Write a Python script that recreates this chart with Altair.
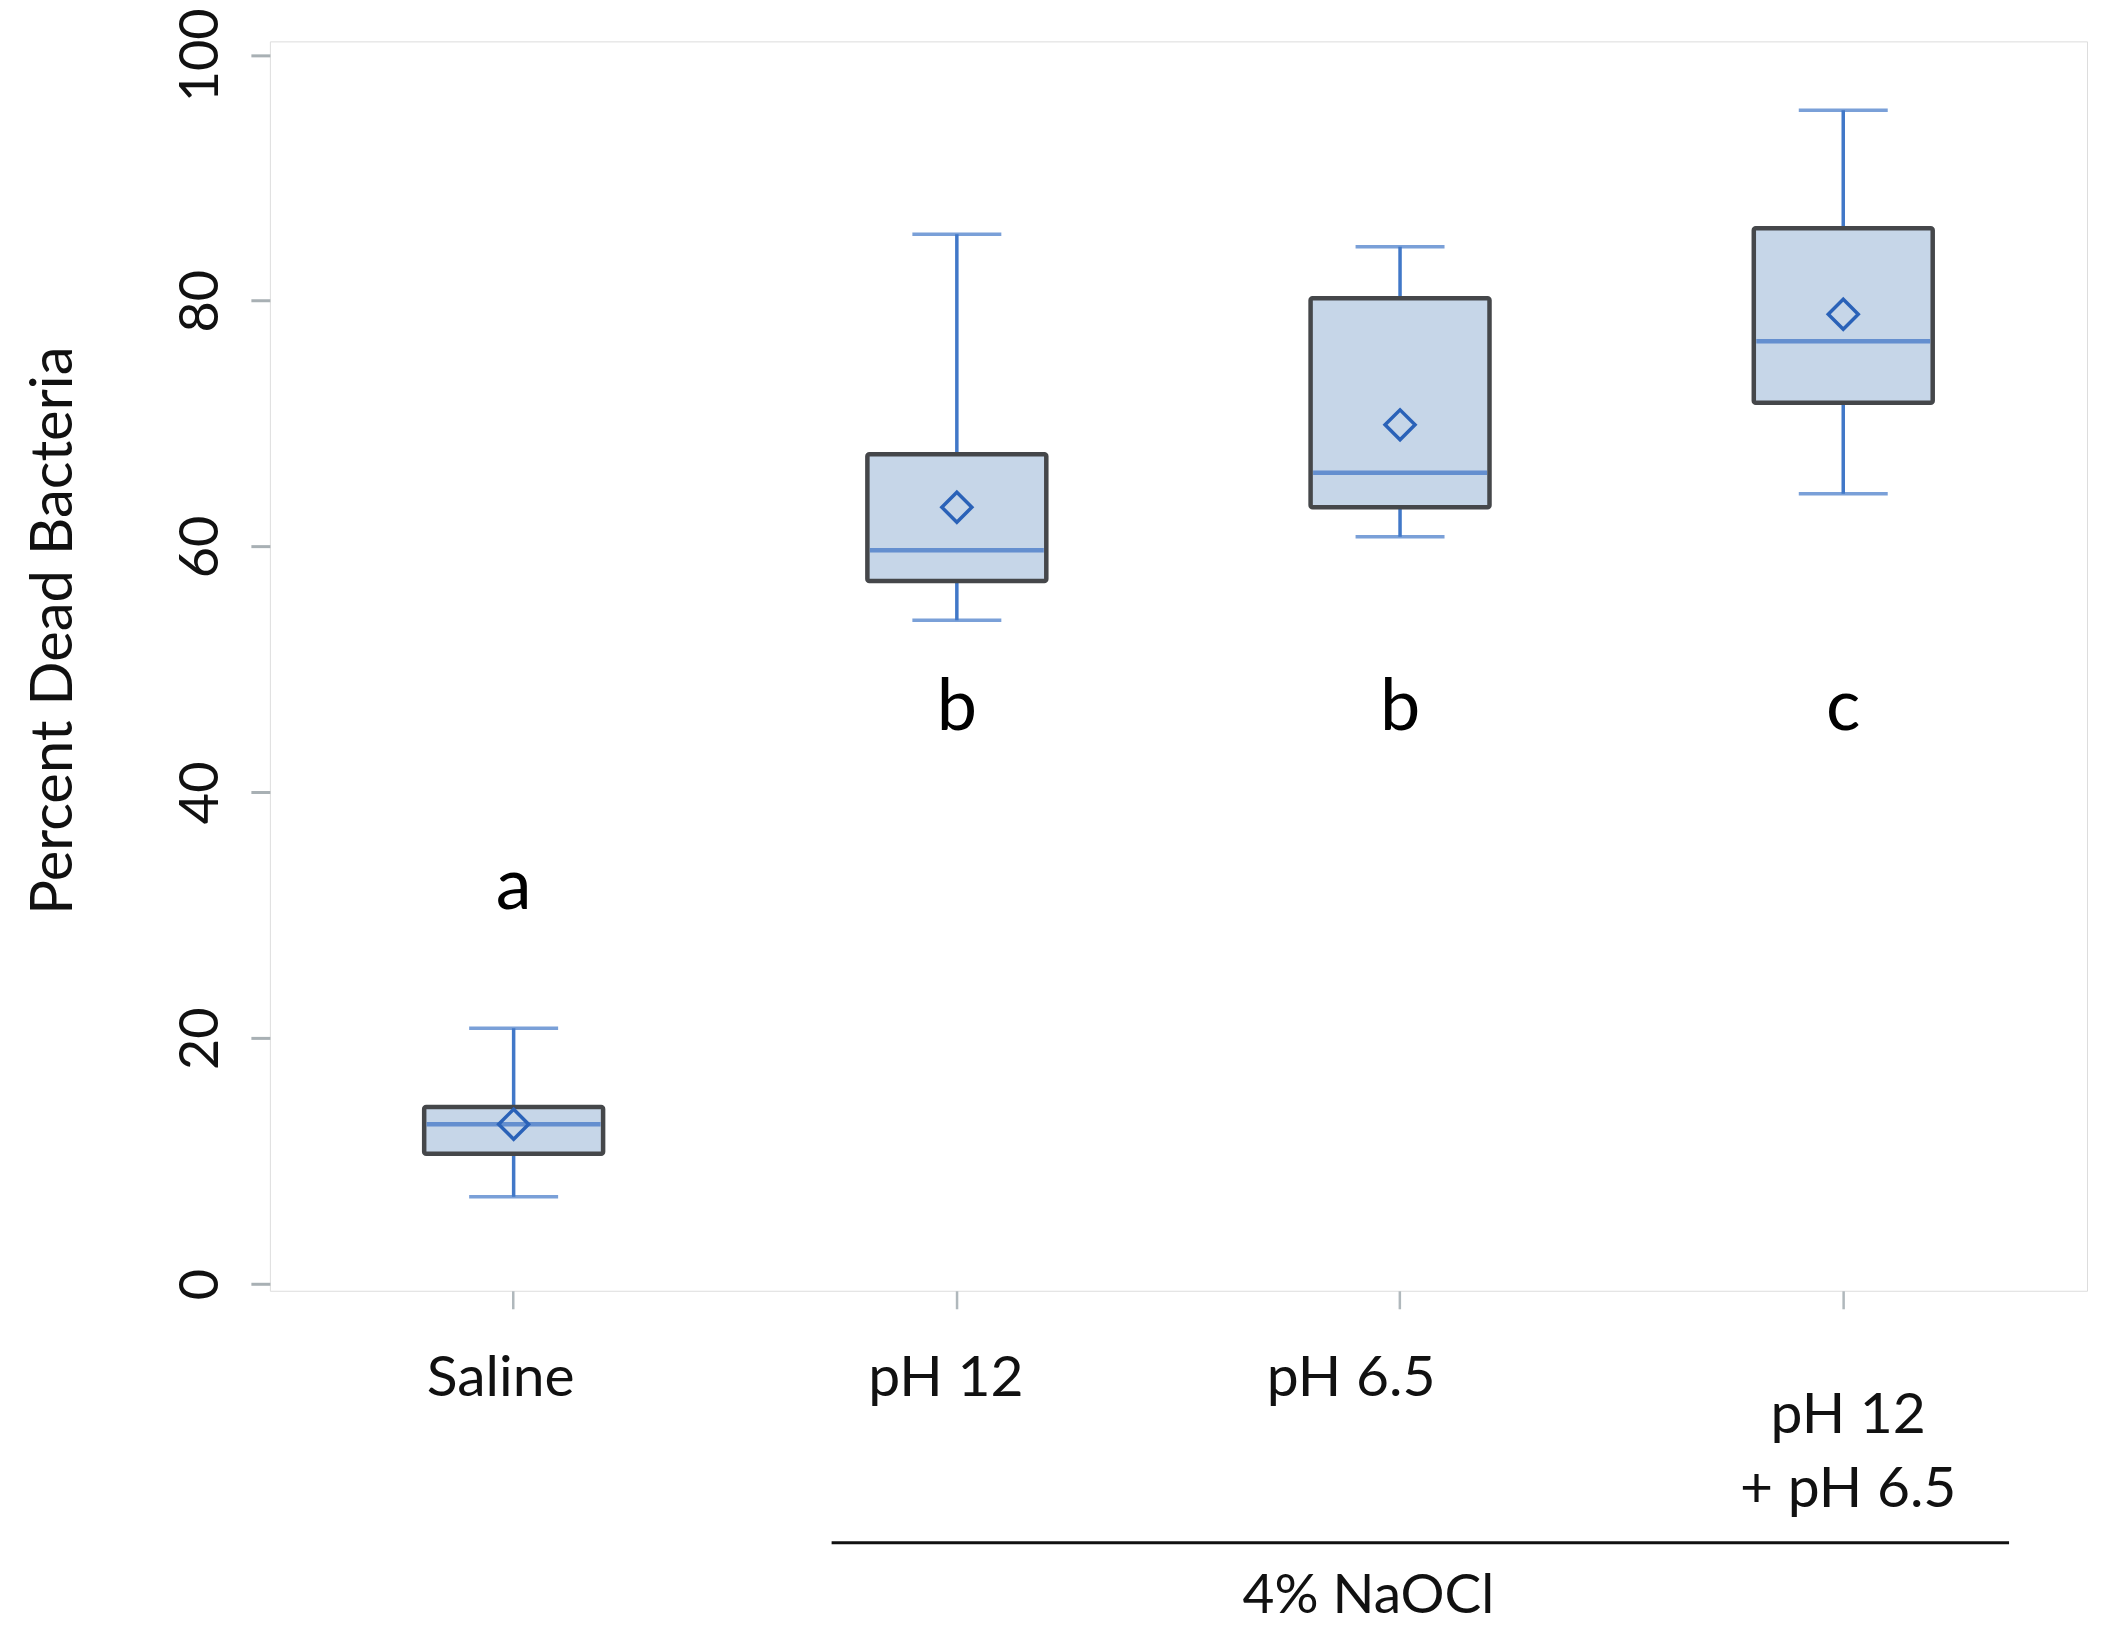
import altair as alt
import pandas as pd

# ---- data ----
groups = ["Saline", "pH 12", "pH 6.5", "pH 12 + pH 6.5"]
whisker_low = [7.1, 54.0, 60.8, 64.3]
q1 = [10.6, 57.2, 63.2, 71.7]
median = [13.0, 59.7, 66.0, 76.7]
q3 = [14.4, 67.5, 80.2, 85.9]
whisker_high = [20.8, 85.4, 84.4, 95.5]
mean = [13.0, 63.2, 69.9, 78.9]
sig_letters = ["a", "b", "b", "c"]
sig_letter_y = [32.3, 46.9, 46.9, 46.9]
y_ticks = [0, 20, 40, 60, 80, 100]
group_label = "4% NaOCl"

df = pd.DataFrame({
    "group": groups, "lo": whisker_low, "q1": q1, "med": median,
    "q3": q3, "hi": whisker_high, "mean": mean,
    "letter": sig_letters, "ly": sig_letter_y,
})

FONT = "Lato"
BLUE = "#4178c8"
DARK_BLUE = "#2a62b8"

W, H = 1818, 1250

x_enc = alt.X(
    "group:N", sort=groups, title=None,
    scale=alt.Scale(type="band", paddingInner=0, paddingOuter=0.05),
    axis=alt.Axis(labels=False, domain=False, ticks=True, tickSize=18,
                  tickWidth=2.5, tickColor="#b0b8bc", grid=False),
)
y_scale = alt.Scale(domain=[-0.55, 101.1], nice=False, zero=False)
y_axis = alt.Axis(
    values=y_ticks, domain=False, grid=False, tickSize=19, tickWidth=3,
    tickColor="#a8b0b4", labelAngle=-90, labelAlign="center",
    labelBaseline="alphabetic", labelPadding=33, labelFont=FONT,
    labelFontSize=54, labelColor="#111111",
    title="Percent Dead Bacteria", titleFont=FONT, titleFontSize=58,
    titleFontWeight="normal", titleColor="#111111", titleAngle=-90,
    titleAlign="center", titleBaseline="alphabetic", titleX=-198, titleY=589,
)

base = alt.Chart(df).encode(x=x_enc)

whiskers = base.mark_rule(color=BLUE, strokeWidth=3.5).encode(
    y=alt.Y("lo:Q", scale=y_scale, axis=y_axis), y2="hi:Q")
cap_lo = base.mark_tick(color=BLUE, size=89, thickness=3.5).encode(
    y=alt.Y("lo:Q", scale=y_scale))
cap_hi = base.mark_tick(color=BLUE, size=89, thickness=3.5).encode(
    y=alt.Y("hi:Q", scale=y_scale))
box = base.mark_bar(size=179, fill="#c6d6e8", stroke="#45474a",
                    strokeWidth=4.5, cornerRadius=2).encode(
    y=alt.Y("q1:Q", scale=y_scale), y2="q3:Q")
med = base.mark_tick(color="#3a70c4", size=174, thickness=4.5).encode(
    y=alt.Y("med:Q", scale=y_scale))
mean_pt = base.mark_point(shape="diamond", size=900, filled=False,
                          color=DARK_BLUE, strokeWidth=3.5, opacity=1).encode(
    y=alt.Y("mean:Q", scale=y_scale))
letters = base.mark_text(font=FONT, fontSize=72, color="#000000",
                         baseline="middle", align="center").encode(
    y=alt.Y("ly:Q", scale=y_scale), text="letter:N")

layers = [whiskers, box, cap_lo, cap_hi, med, mean_pt, letters]

# category labels under the axis
LABEL_SIZE = 57
label_dx = {"Saline": -13, "pH 12": -11, "pH 6.5": -49, "pH 12 + pH 6.5": 5}
for g in groups:
    if g == "pH 12 + pH 6.5":
        t = base.transform_filter(alt.datum.group == g).transform_calculate(
            lab="'pH 12|+ pH 6.5'").mark_text(
            font=FONT, fontSize=LABEL_SIZE, color="#111111", align="center",
            baseline="middle", lineBreak="|", lineHeight=74, dx=label_dx[g]
        ).encode(y=alt.value(1375), text="lab:N")
    else:
        t = base.transform_filter(alt.datum.group == g).mark_text(
            font=FONT, fontSize=LABEL_SIZE, color="#111111", align="center",
            baseline="middle", dx=label_dx[g]
        ).encode(y=alt.value(1338), text="group:N")
    layers.append(t)

bracket = alt.Chart(pd.DataFrame({"k": [0]})).mark_rule(
    color="#111111", strokeWidth=3).encode(
    x=alt.value(562), x2=alt.value(1740), y=alt.value(1502))
bracket_label = alt.Chart(pd.DataFrame({"t": [group_label]})).mark_text(
    font=FONT, fontSize=55, color="#111111", align="center", baseline="middle"
).encode(x=alt.value(1099), y=alt.value(1555), text="t:N")
layers += [bracket, bracket_label]

chart = alt.layer(*layers).properties(
    width=W, height=H,
    autosize=alt.AutoSizeParams(type="none"),
    padding={"left": 262, "top": 33, "right": 30, "bottom": 340},
).configure_view(stroke="#aab3b8", strokeWidth=3).configure(background="white")

chart.save("out.html", embed_options={"renderer": "svg", "actions": False})
